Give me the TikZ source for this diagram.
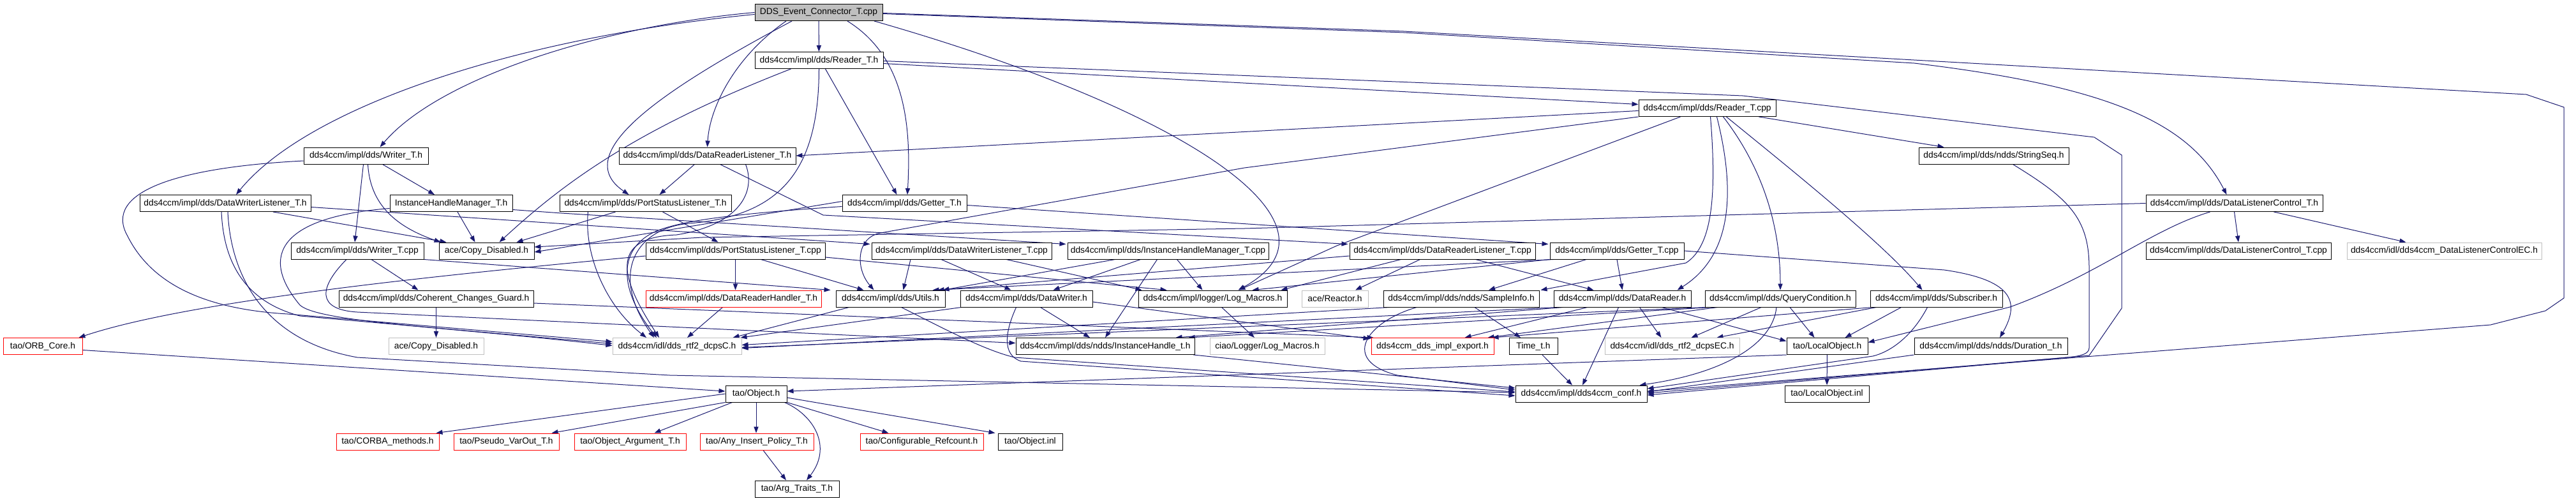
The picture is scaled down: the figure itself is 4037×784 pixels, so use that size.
\documentclass[tikz,border=0pt]{standalone}
\usepackage{fontspec}
\setmainfont{Liberation Sans}
\usetikzlibrary{arrows.meta,calc,backgrounds}
\definecolor{edgec}{HTML}{191970}
\definecolor{grayb}{HTML}{BFBFBF}
\definecolor{redb}{HTML}{FF0000}
\begin{document}
\begin{tikzpicture}[x=0.5pt,y=-0.5pt,
 box/.style={draw=black,line width=0.5pt,inner sep=0pt,minimum height=13pt,fill=white,font=\fontsize{6.9pt}{8pt}\selectfont},
 redbox/.style={box,draw=redb},
 graybox/.style={box,draw=grayb},
 rootbox/.style={box,fill=grayb},
 edge/.style={draw=edgec,line width=0.5pt,-{Triangle[length=5pt,width=3.6pt]}}]
\useasboundingbox (0,0) rectangle (4037,784);
% nodes
\node[rootbox,minimum width=100pt] (E) at (1283,19.5) {DDS\_Event\_Connector\_T.cpp};
\node[box,minimum width=100.5pt] (RTh) at (1283.5,94.5) {dds4ccm/impl/dds/Reader\_T.h};
\node[box,minimum width=107.5pt] (RTc) at (2675.5,169.5) {dds4ccm/impl/dds/Reader\_T.cpp};
\node[box,minimum width=97.5pt] (WTh) at (573.5,244) {dds4ccm/impl/dds/Writer\_T.h};
\node[box,minimum width=138.5pt] (DRLh) at (1108.5,244) {dds4ccm/impl/dds/DataReaderListener\_T.h};
\node[box,minimum width=117.5pt] (SSeq) at (3124.5,244) {dds4ccm/impl/dds/ndds/StringSeq.h};
\node[box,minimum width=134pt] (DWLh) at (353,318.5) {dds4ccm/impl/dds/DataWriterListener\_T.h};
\node[box,minimum width=96pt] (IHMh) at (707,318.5) {InstanceHandleManager\_T.h};
\node[box,minimum width=134.5pt] (PSLh) at (1011.5,318.5) {dds4ccm/impl/dds/PortStatusListener\_T.h};
\node[box,minimum width=97.5pt] (GTh) at (1417.5,318.5) {dds4ccm/impl/dds/Getter\_T.h};
\node[box,minimum width=138.5pt] (DLCh) at (3501.5,318.5) {dds4ccm/impl/dds/DataListenerControl\_T.h};
\node[box,minimum width=104pt] (WTc) at (560,393) {dds4ccm/impl/dds/Writer\_T.cpp};
\node[box,minimum width=74.5pt] (CD) at (762.5,393) {ace/Copy\_Disabled.h};
\node[box,minimum width=140.5pt] (PSLc) at (1152.5,393) {dds4ccm/impl/dds/PortStatusListener\_T.cpp};
\node[box,minimum width=141pt] (DWLc) at (1507,393) {dds4ccm/impl/dds/DataWriterListener\_T.cpp};
\node[box,minimum width=157.5pt] (IHMc) at (1830.5,393) {dds4ccm/impl/dds/InstanceHandleManager\_T.cpp};
\node[box,minimum width=145.5pt] (DRLc) at (2260.5,393) {dds4ccm/impl/dds/DataReaderListener\_T.cpp};
\node[box,minimum width=105pt] (GTc) at (2534,393) {dds4ccm/impl/dds/Getter\_T.cpp};
\node[box,minimum width=145pt] (DLCc) at (3508,393) {dds4ccm/impl/dds/DataListenerControl\_T.cpp};
\node[graybox,minimum width=152.5pt] (DLCEC) at (3830.5,393) {dds4ccm/idl/dds4ccm\_DataListenerControlEC.h};
\node[box,minimum width=152.5pt] (CCG) at (683.5,468) {dds4ccm/impl/dds/Coherent\_Changes\_Guard.h};
\node[redbox,minimum width=137.5pt] (DRH) at (1149.5,468) {dds4ccm/impl/dds/DataReaderHandler\_T.h};
\node[box,minimum width=85.5pt] (UT) at (1395.5,468) {dds4ccm/impl/dds/Utils.h};
\node[box,minimum width=103.5pt] (DW) at (1608.5,468) {dds4ccm/impl/dds/DataWriter.h};
\node[box,minimum width=116.5pt] (LM) at (1900.5,468) {dds4ccm/impl/logger/Log\_Macros.h};
\node[graybox,minimum width=52pt] (REA) at (2092,468) {ace/Reactor.h};
\node[box,minimum width=122pt] (SI) at (2290,468) {dds4ccm/impl/dds/ndds/SampleInfo.h};
\node[box,minimum width=107.5pt] (DR) at (2542.5,468) {dds4ccm/impl/dds/DataReader.h};
\node[box,minimum width=118pt] (QC) at (2790,468) {dds4ccm/impl/dds/QueryCondition.h};
\node[box,minimum width=103.5pt] (SUB) at (3034.5,468) {dds4ccm/impl/dds/Subscriber.h};
\node[redbox,minimum width=62pt] (ORB) at (67,542.5) {tao/ORB\_Core.h};
\node[graybox,minimum width=74.5pt] (CD2) at (683.5,542.5) {ace/Copy\_Disabled.h};
\node[graybox,minimum width=101pt] (DCPS) at (1061,542.5) {dds4ccm/idl/dds\_rtf2\_dcpsC.h};
\node[box,minimum width=140pt] (IHT) at (1732,542.5) {dds4ccm/impl/dds/ndds/InstanceHandle\_t.h};
\node[graybox,minimum width=90pt] (CLM) at (1986,542.5) {ciao/Logger/Log\_Macros.h};
\node[redbox,minimum width=96pt] (EXP) at (2245,542.5) {dds4ccm\_dds\_impl\_export.h};
\node[box,minimum width=38pt] (TT) at (2403,542.5) {Time\_t.h};
\node[graybox,minimum width=105.5pt] (DCPSEC) at (2620.5,542.5) {dds4ccm/idl/dds\_rtf2\_dcpsEC.h};
\node[box,minimum width=63.5pt] (LO) at (2863.5,542.5) {tao/LocalObject.h};
\node[box,minimum width=120pt] (DUR) at (3120,542.5) {dds4ccm/impl/dds/ndds/Duration\_t.h};
\node[box,minimum width=48pt] (OBJ) at (1185,617) {tao/Object.h};
\node[box,minimum width=103pt] (CONF) at (2478,617) {dds4ccm/impl/dds4ccm\_conf.h};
\node[box,minimum width=66pt] (LOI) at (2863,617) {tao/LocalObject.inl};
\node[redbox,minimum width=80.5pt] (CM) at (607.5,692) {tao/CORBA\_methods.h};
\node[redbox,minimum width=82.5pt] (PVO) at (793.5,692) {tao/Pseudo\_VarOut\_T.h};
\node[redbox,minimum width=87.5pt] (OAT) at (987.5,692) {tao/Object\_Argument\_T.h};
\node[redbox,minimum width=89pt] (AIP) at (1186,692) {tao/Any\_Insert\_Policy\_T.h};
\node[redbox,minimum width=96.5pt] (CR) at (1444.5,692) {tao/Configurable\_Refcount.h};
\node[box,minimum width=50.5pt] (OINL) at (1614.5,692) {tao/Object.inl};
\node[box,minimum width=66pt] (ATT) at (1249,766) {tao/Arg\_Traits\_T.h};

\begin{pgfonlayer}{background}
\fill[white] (0,0) rectangle (4037,784);
% from root
\draw[edge] (E) -- (RTh);
\draw[edge] (E.west) .. controls (950,40) and (690,120) .. ($(WTh.north)+(22,0)$);
\draw[edge] ($(E.west)+(0,3)$) .. controls (800,60) and (480,170) .. ($(DWLh.north)+(17,0)$);
\draw[edge] ($(E.south)+(-42,0)$) .. controls (1040,140) and (890,240) .. ($(PSLh.north)+(-26,0)$);
\draw[edge] ($(E.south)+(-51,0)$) .. controls (1150,90) and (1112,170) .. (DRLh.north);
\draw[edge] ($(E.south)+(45,0)$) .. controls (1420,90) and (1428,200) .. ($(GTh.north)+(4.5,0)$);
\draw[edge] ($(E.south)+(87,0)$) .. controls (1850,170) and (2130,350) .. ($(LM.north)+(40,0)$);
\draw[edge] ($(E.east)+(0,2)$) -- (2200,51) -- (3000,99) .. controls (3300,135) and (3430,190) .. ($(DLCh.north)+(-12,0)$);
\draw[edge] ($(E.east)+(0,1)$) -- (2200,49) -- (3959,148) -- (4018,168) -- (4018,467) -- (3989,487) -- (3903,509) -- ($(CONF.east)+(0,-4)$);
% Reader_T.h
\draw[edge] ($(RTh.east)+(0,5)$) -- ($(RTc.west)+(0,-6)$);
\draw[edge] ($(RTh.east)+(0,1)$) -- (2731,150) -- (3282,215) -- (3325,243) -- (3325,483) -- (3274,557) -- ($(CONF.east)+(0,-1)$);
\draw[edge] ($(RTh.south west)+(57,0)$) .. controls (990,205) and (880,290) .. ($(CD.north)+(20,0)$);
\draw[edge] ($(RTh.south)+(10,0)$) -- ($(GTh.north)+(-12,0)$);
\draw[edge] (RTh.south) .. controls (1283,260) and (1230,338) .. (1080,350) .. controls (995,358) and (955,430) .. ($(DCPS.north)+(-36,0)$);
% Reader_T.cpp
\draw[edge] ($(RTc.west)+(0,4)$) -- (DRLh.east);
\draw[edge] (RTc.south west) -- (1950,263) -- (1380,365) .. controls (1342,372) and (1340,420) .. ($(UT.north)+(-26,0)$);
\draw[edge] ($(RTc.south west)+(66,0)$) -- (2095,385) -- ($(LM.north east)+(-76,0)$);
\draw[edge] ($(RTc.south)+(5,0)$) .. controls (2690,300) and (2685,385) .. (2642,412) -- ($(SI.north east)+(2,0)$);
\draw[edge] ($(RTc.south)+(15,0)$) .. controls (2720,300) and (2715,400) .. ($(DR.north east)+(-22,0)$);
\draw[edge] ($(RTc.south)+(25,0)$) .. controls (2760,260) and (2790,350) .. (QC.north);
\draw[edge] ($(RTc.south)+(30,0)$) .. controls (2800,260) and (2950,380) .. ($(SUB.north)+(-22,0)$);
\draw[edge] ($(RTc.south east)+(-27,0)$) -- ($(SSeq.north)+(-78,0)$);
% StringSeq
\draw[edge] ($(SSeq.south)+(30,0)$) .. controls (3240,310) and (3274,340) .. (3274,420) -- (3274,545) .. controls (3274,555) and (3260,558) .. (3240,560) -- ($(CONF.east)+(0,2)$);
% Writer_T.h
\draw[edge] ($(WTh.south)+(3,0)$) .. controls (580,320) and (620,355) .. ($(CD.north west)+(3,0)$);
\draw[edge] ($(WTh.south)+(-4,0)$) -- ($(WTc.north)+(-4,0)$);
\draw[edge] ($(WTh.south)+(26,0)$) -- ($(IHMh.north)+(-26,0)$);
\draw[edge] ($(WTh.west)+(0,8)$) .. controls (280,262) and (160,300) .. (200,370) .. controls (240,450) and (330,485) .. (451,492) -- ($(DCPS.west)+(0,-7)$);
% DataReaderListener_T.h
\draw[edge] ($(DRLh.south)+(-20,0)$) -- ($(PSLh.north)+(22,0)$);
\draw[edge] ($(DRLh.south)+(20,0)$) -- (1290,337) -- ($(DRLc.north west)+(-2,3)$);
\draw[edge] ($(DRLh.south)+(60,0)$) .. controls (1185,300) and (1160,352) .. (1060,368) .. controls (950,372) and (975,440) .. ($(DCPS.north)+(-28,0)$);
% DataWriterListener_T.h
\draw[edge] ($(DWLh.south)+(75,0)$) -- ($(CD.north west)+(12,0)$);
\draw[edge] ($(DWLh.east)+(0,6)$) -- ($(DWLc.north west)+(-2,3)$);
\draw[edge] ($(DWLh.south)+(-6,0)$) .. controls (350,400) and (375,470) .. (470,495) -- ($(DCPS.west)+(0,-4)$);
\draw[edge] ($(DWLh.south)+(4,0)$) .. controls (362,440) and (420,535) .. (560,560) -- (1050,588) -- ($(CONF.west)+(0,-2)$);
% InstanceHandleManager_T.h
\draw[edge] ($(IHMh.south)+(10,0)$) -- ($(CD.north)+(-18,0)$);
\draw[edge] ($(IHMh.east)+(0,10)$) -- (880,334) -- ($(IHMc.north west)+(-2,3)$);
\draw[edge] ($(IHMh.west)+(0,8)$) .. controls (440,340) and (405,400) .. (470,478) .. controls (500,505) and (700,512) .. ($(DCPS.west)+(0,-1)$);
% PortStatusListener_T.h
\draw[edge] ($(PSLh.south)+(-47,0)$) -- ($(CD.north)+(47,0)$);
\draw[edge] ($(PSLh.south)+(27,0)$) -- ($(PSLc.north)+(-27,0)$);
\draw[edge] ($(PSLh.south)+(-90,0)$) .. controls (915,400) and (950,480) .. ($(DCPS.north)+(-48,0)$);
% Getter_T.h
\draw[edge] ($(GTh.west)+(0,-3)$) -- ($(CD.east)+(0,2)$);
\draw[edge] ($(GTh.east)+(0,3)$) -- ($(GTc.north west)+(-2,3)$);
\draw[edge] ($(GTh.west)+(0,5)$) .. controls (1150,335) and (1080,345) .. (1040,358) .. controls (975,378) and (960,440) .. ($(DCPS.north)+(-32,0)$);
% DataListenerControl_T.h
\draw[edge] (DLCh.west) -- (1950,358) -- (1100,372) -- ($(CD.east)+(0,-6)$);
\draw[edge] (DLCh.south) -- (DLCc.north);
\draw[edge] ($(DLCh.south)+(62,0)$) -- ($(DLCEC.north)+(-60,0)$);
\draw[edge] ($(DLCh.south)+(-38,0)$) .. controls (3370,360) and (3290,430) .. (3150,481) -- ($(LO.east)+(0,-6)$);
% Writer_T.cpp
\draw[edge] ($(WTc.south)+(22,0)$) -- ($(CCG.north)+(-28,0)$);
\draw[edge] (WTc.south east) -- ($(UT.north west)+(-8,0)$);
\draw[edge] ($(WTc.south)+(-17,0)$) .. controls (500,450) and (495,485) .. (560,489) -- ($(IHT.west)+(0,-5)$);
% PortStatusListener_T.cpp
\draw[edge] ($(PSLc.west)+(0,8)$) .. controls (700,430) and (300,470) .. ($(ORB.north east)+(-6,0)$);
\draw[edge] (PSLc.south) -- ($(DRH.north)+(3,0)$);
\draw[edge] ($(PSLc.south)+(40,0)$) -- ($(UT.north)+(-42,0)$);
\draw[edge] ($(PSLc.east)+(0,10)$) -- ($(LM.north)+(-72,0)$);
% DataWriterListener_T.cpp
\draw[edge] ($(DWLc.south)+(-80,0)$) -- ($(UT.north)+(20,0)$);
\draw[edge] ($(DWLc.south)+(-32,0)$) -- ($(DW.north)+(-24,0)$);
\draw[edge] ($(DWLc.south)+(70,0)$) -- ($(LM.north west)+(6,0)$);
% InstanceHandleManager_T.cpp
\draw[edge] ($(IHMc.south)+(-83,0)$) -- ($(UT.north east)+(-4,0)$);
\draw[edge] ($(IHMc.south)+(-43,0)$) -- ($(DW.north)+(42,0)$);
\draw[edge] ($(IHMc.south)+(-17,0)$) -- (IHT.north);
\draw[edge] ($(IHMc.south)+(14,0)$) -- ($(LM.north)+(-16,0)$);
% DataReaderListener_T.cpp
\draw[edge] ($(DRLc.south)+(-65,0)$) -- ($(LM.north east)+(-10,0)$);
\draw[edge] ($(DRLc.south)+(-35,0)$) -- ($(REA.north)+(32,0)$);
\draw[edge] ($(DRLc.south)+(52,0)$) -- ($(DR.north)+(-45,0)$);
\draw[edge] ($(DRLc.west)+(0,8)$) -- ($(UT.north east)+(-12,0)$);
% Getter_T.cpp
\draw[edge] (GTc.south) -- (DR.north);
\draw[edge] ($(GTc.south)+(-48,0)$) -- ($(SI.north)+(43,0)$);
\draw[edge] (GTc.south west) -- ($(LM.north east)+(-55,0)$);
\draw[edge] ($(GTc.south west)+(6,0)$) -- ($(UT.north east)+(-20,0)$);
\draw[edge] (GTc.east) -- (3047,423) .. controls (3150,438) and (3168,470) .. ($(DUR.north)+(14,0)$);
% Coherent_Changes_Guard
\draw[edge] (CCG.south) -- (CD2.north);
\draw[edge] ($(CCG.east)+(0,7)$) -- ($(EXP.north west)+(4,0)$);
% row 6
\draw[edge] ($(DRH.south)+(-17,0)$) -- ($(DCPS.north)+(16,0)$);
\draw[edge] ($(UT.south)+(-65,0)$) -- ($(DCPS.north east)+(-14,0)$);
\draw[edge] ($(UT.south)+(17,0)$) .. controls (1470,510) and (1540,548) .. (1590,560) -- ($(CONF.west)+(0,-3)$);
\draw[edge] ($(DW.south west)+(2,0)$) -- ($(DCPS.north east)+(-2,0)$);
\draw[edge] ($(DW.south)+(22,0)$) -- ($(IHT.north)+(-24,0)$);
\draw[edge] ($(DW.south)+(-16,0)$) .. controls (1575,520) and (1570,556) .. (1600,566) -- ($(CONF.west)+(0,3)$);
\draw[edge] ($(DW.east)+(0,5)$) -- ($(EXP.north west)+(-2,2)$);
\draw[edge] ($(LM.south)+(14,0)$) -- ($(CLM.north)+(-20,0)$);
\draw[edge] ($(SI.south)+(-70,0)$) .. controls (2140,505) and (2100,565) .. (2190,588) -- ($(CONF.west)+(0,-6)$);
\draw[edge] ($(SI.south)+(21,0)$) -- ($(TT.north)+(-20,0)$);
\draw[edge] ($(SI.south west)+(10,0)$) -- ($(DCPS.east)+(0,-2)$);
\draw[edge] ($(DR.south)+(-55,0)$) -- ($(EXP.north east)+(-46,0)$);
\draw[edge] ($(DR.south)+(-6,0)$) -- ($(CONF.north)+(2,0)$);
\draw[edge] ($(DR.south)+(27,0)$) -- ($(DCPSEC.north)+(-17,0)$);
\draw[edge] ($(DR.south)+(62,0)$) -- ($(LO.west)+(0,-8)$);
\draw[edge] ($(DR.south west)+(5,0)$) -- ($(DCPS.east)+(0,3)$);
\draw[edge] ($(DR.south west)+(15,0)$) -- ($(IHT.north east)+(-30,0)$);
\draw[edge] ($(QC.south)+(-30,0)$) -- ($(DCPSEC.north)+(30,0)$);
\draw[edge] ($(QC.south)+(15,0)$) -- ($(LO.north)+(-20,0)$);
\draw[edge] ($(QC.south)+(-6,0)$) .. controls (2778,540) and (2700,585) .. ($(CONF.north east)+(-12,0)$);
\draw[edge] ($(QC.south west)+(2,0)$) -- ($(DCPS.east)+(0,2)$);
\draw[edge] ($(QC.south west)+(20,0)$) -- ($(EXP.north east)+(-10,0)$);
\draw[edge] ($(QC.south west)+(10,0)$) -- ($(IHT.north east)+(-10,0)$);
\draw[edge] ($(SUB.south)+(-55,0)$) -- ($(LO.north)+(28,0)$);
\draw[edge] ($(SUB.south west)+(10,0)$) -- ($(DCPSEC.north east)+(-36,0)$);
\draw[edge] ($(SUB.south)+(-14,0)$) .. controls (2995,530) and (2960,552) .. (2935,558) -- ($(CONF.east)+(0,-8)$);
\draw[edge] ($(SUB.south west)+(4,0)$) -- ($(EXP.north east)+(-3,0)$);
% row 7 and below
\draw[edge] ($(ORB.east)+(0,6)$) -- ($(OBJ.west)+(0,-4)$);
\draw[edge] (LO.south west) -- ($(OBJ.east)+(0,-4)$);
\draw[edge] (LO) -- (LOI);
\draw[edge] ($(IHT.south east)+(-2,0)$) -- ($(CONF.west)+(0,-9)$);
\draw[edge] ($(TT.south)+(14,0)$) -- ($(CONF.north)+(-14,0)$);
\draw[edge] (DUR.south west) -- ($(CONF.east)+(0,-3)$);
\draw[edge] (OBJ.west) -- ($(CM.north east)+(-5,0)$);
\draw[edge] (OBJ.south west) -- ($(PVO.north east)+(-12,0)$);
\draw[edge] ($(OBJ.south west)+(11,0)$) -- ($(OAT.north)+(38,0)$);
\draw[edge] (OBJ.south) -- ($(AIP.north)+(-1,0)$);
\draw[edge] ($(OBJ.south east)+(-4,0)$) .. controls (1275,650) and (1305,700) .. ($(ATT.north)+(15,0)$);
\draw[edge] (OBJ.south east) -- ($(CR.north)+(-52,0)$);
\draw[edge] ($(OBJ.east)+(0,6)$) -- ($(OINL.north west)+(-4,0)$);
\draw[edge] ($(AIP.south)+(10,0)$) -- ($(ATT.north)+(-17,0)$);
\end{pgfonlayer}
\end{tikzpicture}
\end{document}
